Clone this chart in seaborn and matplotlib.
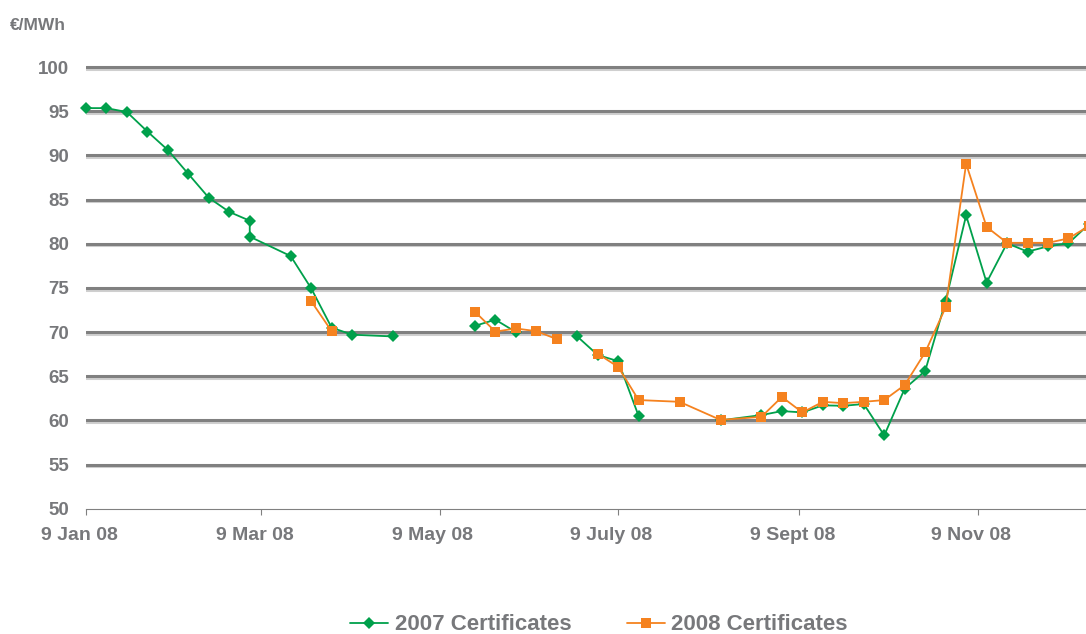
import numpy as np
import pandas as pd
import matplotlib
matplotlib.use("Agg")
import matplotlib.pyplot as plt
import matplotlib.transforms as mtransforms
import matplotlib.patheffects as pe
from matplotlib.lines import Line2D
import seaborn as sns

# ---------------- data (weekly observations, week index from 9 Jan 2008) ----------------
start_date = "2008-01-09"

weeks_2007 = [0, 1, 2, 3, 4, 5, 6, 7, 8, 8, 10, 11, 12, 13, 15,
              19, 20, 21,
              24, 25, 26, 27,
              31, 33, 34, 35, 36, 37, 38, 39, 40, 41, 42, 43, 44, 45, 46, 47, 48, 49]
values_2007 = [95.35, 95.35, 94.9, 92.7, 90.6, 87.9, 85.2, 83.6, 82.6, 80.8, 78.6, 74.95, 70.5, 69.7, 69.5,
               70.7, 71.4, 70.0,
               69.5, 67.4, 66.7, 60.5,
               60.0, 60.6, 61.05, 60.9, 61.7, 61.65, 61.85, 58.3, 63.6, 65.6, 73.5, 83.2, 75.6, 80.05, 79.1, 79.7, 80.05, 82.2]
segments_2007 = [1] * 15 + [2] * 3 + [3] * 4 + [4] * 18

weeks_2008 = [11, 12,
              19, 20, 21, 22, 23,
              25, 26, 27, 29, 31, 33, 34, 35, 36, 37, 38, 39, 40, 41, 42, 43, 44, 45, 46, 47, 48, 49]
values_2008 = [73.5, 70.1,
               72.3, 70.05, 70.4, 70.1, 69.2,
               67.55, 66.05, 62.3, 62.1, 60.05, 60.4, 62.65, 60.9, 62.1, 61.95, 62.1, 62.3, 64.0, 67.7, 72.8, 89.05, 81.9, 80.1, 80.1, 80.1, 80.6, 82.0]
segments_2008 = [1] * 2 + [2] * 5 + [3] * 22

series_names = ["2007 Certificates", "2008 Certificates"]
series_colors = ["#00a04b", "#f5821f"]
series_markers = ["D", "s"]

tick_dates = ["2008-01-09", "2008-03-09", "2008-05-09", "2008-07-09", "2008-09-09", "2008-11-09"]
tick_labels = ["9 Jan 08", "9 Mar 08", "9 May 08", "9 July 08", "9 Sept 08", "9 Nov 08"]
y_ticks = [50, 55, 60, 65, 70, 75, 80, 85, 90, 95, 100]
y_unit = "€/MWh"

# ---------------- build frames ----------------
t0 = pd.Timestamp(start_date)
def make_df(weeks, values, segs, name):
    return pd.DataFrame({
        "date": [t0 + pd.Timedelta(days=7 * w) for w in weeks],
        "value": values,
        "seg": segs,
        "series": name,
    })

df07 = make_df(weeks_2007, values_2007, segments_2007, series_names[0])
df08 = make_df(weeks_2008, values_2008, segments_2008, series_names[1])

# ---------------- style ----------------
sns.set_theme(style="white")
plt.rcParams["font.family"] = ["Liberation Sans", "DejaVu Sans"]
text_gray = "#77787b"
grid_gray = "#808080"

W, H = 1086, 634
fig = plt.figure(figsize=(W / 100, H / 100), dpi=100)
ax_left, ax_bottom_px, ax_top_px = 86, 508.7, 63.5
ax = fig.add_axes([ax_left / W, 1 - ax_bottom_px / H, 1 - ax_left / W, (ax_bottom_px - ax_top_px) / H])

ms_d, ms_s = 6.2, 7.0
for df, col, mk, ms in [(df07, series_colors[0], series_markers[0], ms_d),
                        (df08, series_colors[1], series_markers[1], ms_s)]:
    sns.lineplot(data=df, x="date", y="value", units="seg", estimator=None, sort=False,
                 color=col, marker=mk, markersize=ms, markeredgewidth=0,
                 linewidth=1.3, ax=ax, clip_on=False, legend=False, zorder=3)

# axes limits
ax.set_xlim(t0, t0 + pd.Timedelta(days=342))
ax.set_ylim(50, 100.4)

# y axis
ax.set_yticks(y_ticks)
ax.set_yticklabels([str(v) for v in y_ticks])
ax.tick_params(axis="y", length=0, pad=12, labelsize=13.5, labelcolor=text_gray)
for lab in ax.get_yticklabels():
    lab.set_fontweight("bold")

# x axis
ax.set_xticks(pd.to_datetime(tick_dates))
ax.set_xticklabels(tick_labels)
ax.tick_params(axis="x", direction="out", length=4.5, width=0.8, color=grid_gray,
               pad=9, labelsize=14, labelcolor=text_gray, bottom=True)
shift = mtransforms.ScaledTranslation(-0.07, 0, fig.dpi_scale_trans)
for lab in ax.get_xticklabels():
    lab.set_fontweight("bold")
    lab.set_transform(lab.get_transform() + shift)

ax.set_xlabel("")
ax.set_ylabel("")

# spines
for s in ["left", "right", "top"]:
    ax.spines[s].set_visible(False)
ax.spines["bottom"].set_color(grid_gray)
ax.spines["bottom"].set_linewidth(0.8)

# gridlines
ax.set_axisbelow(True)
ax.yaxis.grid(True, color=grid_gray, linewidth=2.2)
ax.xaxis.grid(False)
for val, gl in zip(y_ticks, ax.yaxis.get_gridlines()):
    if val == 50:
        gl.set_visible(False)
    else:
        gl.set_path_effects([pe.SimpleLineShadow(offset=(0, -1.2), shadow_color="#cfcfcf", alpha=1.0),
                             pe.Normal()])

# unit label
fig.text(10 / W, 1 - 26 / H, y_unit, ha="left", va="center", fontsize=12.5,
         fontweight="bold", color=text_gray)

# legend
handles = [Line2D([], [], color=series_colors[0], marker=series_markers[0], markersize=ms_d,
                  markeredgewidth=0, linewidth=1.3),
           Line2D([], [], color=series_colors[1], marker=series_markers[1], markersize=ms_s,
                  markeredgewidth=0, linewidth=1.3)]
leg = fig.legend(handles, series_names, loc="center", bbox_to_anchor=(599 / W, 1 - 625 / H),
                 ncol=2, frameon=False, prop={"weight": "bold", "size": 16},
                 handlelength=1.7, handletextpad=0.3, columnspacing=2.5, labelcolor=text_gray)

fig.savefig("out.png", dpi=100)
